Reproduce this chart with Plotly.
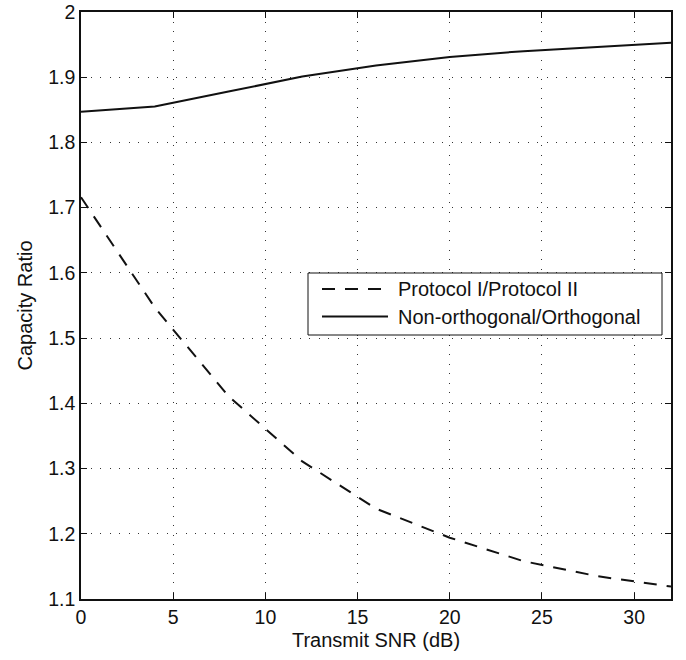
import plotly.graph_objects as go

# Capacity ratio versus transmit SNR
snr_db = [0, 4, 8, 12, 16, 20, 24, 28, 32]
ratio_protocol = [1.716, 1.547, 1.411, 1.311, 1.2385, 1.194, 1.158, 1.135, 1.119]
ratio_nonorth = [1.847, 1.855, 1.878, 1.901, 1.918, 1.931, 1.940, 1.947, 1.953]

series_names = ["Protocol I/Protocol II", "Non-orthogonal/Orthogonal"]
x_ticks = [0, 5, 10, 15, 20, 25, 30]
y_ticks = [1.1, 1.2, 1.3, 1.4, 1.5, 1.6, 1.7, 1.8, 1.9, 2.0]

FONT = "Liberation Sans, Arial, Helvetica, sans-serif"
INK = "#111111"
DASH = "13px,10px"

fig = go.Figure()
fig.add_trace(go.Scatter(x=snr_db, y=ratio_protocol, mode="lines", name=series_names[0],
                         line=dict(color=INK, width=2, dash=DASH), showlegend=False))
fig.add_trace(go.Scatter(x=snr_db, y=ratio_nonorth, mode="lines", name=series_names[1],
                         line=dict(color=INK, width=2), showlegend=False))

axis_common = dict(
    showline=True, linecolor=INK, linewidth=1.5, mirror="allticks",
    ticks="inside", ticklen=6, tickcolor=INK, tickwidth=1,
    showgrid=True, gridcolor="#333333", gridwidth=1, griddash="1px,8.5px",
    zeroline=False, tickfont=dict(family=FONT, size=19.5, color=INK),
    ticklabeloverflow="allow", automargin=False,
)

fig.update_xaxes(range=[0, 32], tickvals=x_ticks,
                 title=dict(text="Transmit SNR (dB)", font=dict(family=FONT, size=20, color=INK), standoff=6),
                 **axis_common)
fig.update_yaxes(range=[1.1, 2.0], tickvals=y_ticks,
                 title=dict(text="Capacity Ratio", font=dict(family=FONT, size=20, color=INK), standoff=10),
                 **axis_common)

# Legend box drawn in paper coordinates
L, R, T, B = 81, 15, 12, 61
W, H = 686, 660
pw, ph = W - L - R, H - T - B

def px(x):
    return (x - L) / pw

def py(y):
    return 1 - (y - T) / ph

box = dict(x0=px(308), x1=px(662), y0=py(335), y1=py(273))
fig.add_shape(type="rect", xref="paper", yref="paper", **box,
              line=dict(color=INK, width=1), fillcolor="white", layer="above")
legend_rows = [(289, DASH, series_names[0]), (316.5, "solid", series_names[1])]
for ypix, dash, label in legend_rows:
    fig.add_shape(type="line", xref="paper", yref="paper",
                  x0=px(322), x1=px(388), y0=py(ypix), y1=py(ypix),
                  line=dict(color=INK, width=2, dash=dash), layer="above")
    fig.add_annotation(xref="paper", yref="paper", x=px(396), y=py(ypix),
                       text=label, showarrow=False, xanchor="left", yanchor="middle",
                       font=dict(family=FONT, size=20, color=INK))

fig.update_layout(
    width=W, height=H,
    margin=dict(l=L, r=R, t=T, b=B),
    paper_bgcolor="white", plot_bgcolor="white",
    font=dict(family=FONT, color=INK),
    showlegend=False,
)

fig.write_html("out.html")
